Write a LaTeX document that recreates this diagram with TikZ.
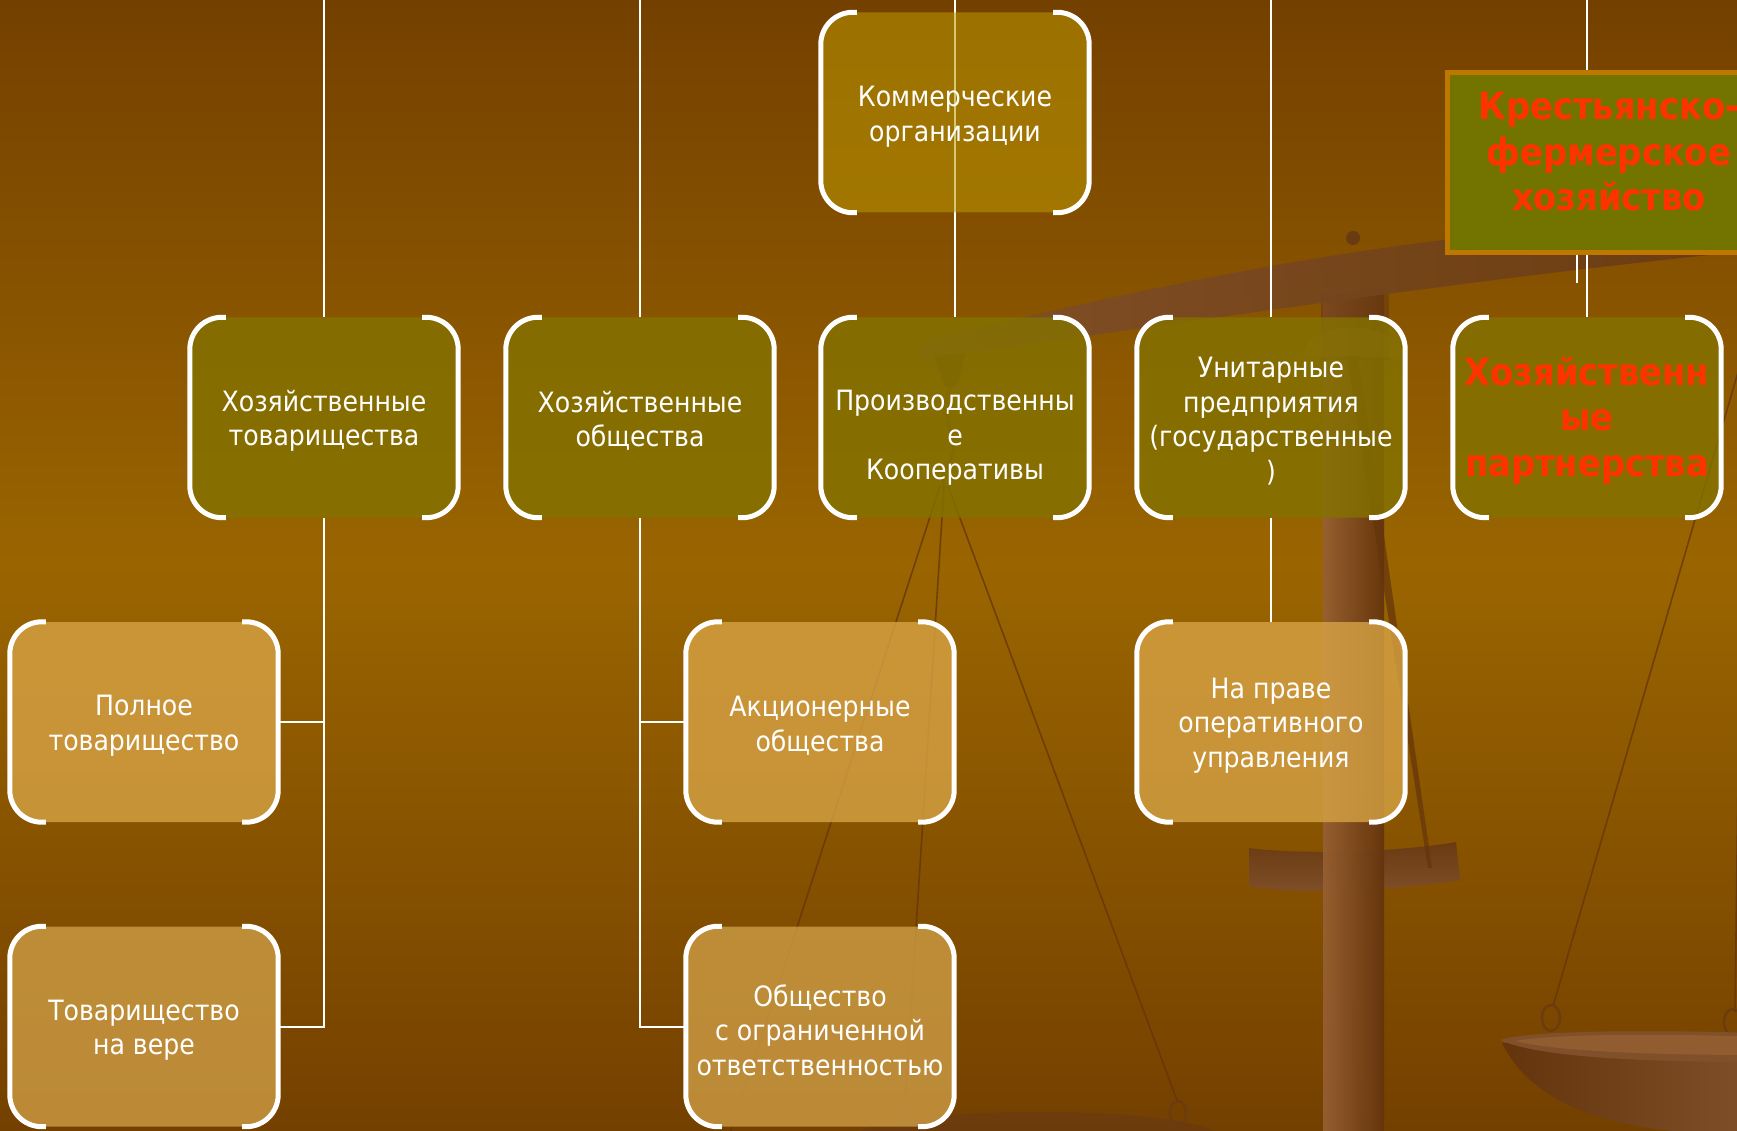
\documentclass[tikz,border=0pt]{standalone}
\usepackage{fontspec}
\newfontfamily\tah{DejaVu Sans Condensed}[BoldFont={DejaVu Sans Condensed Bold}]
\usetikzlibrary{calc}
\definecolor{bgTop}{RGB}{116,64,0}
\definecolor{bgMid}{RGB}{154,101,0}
\definecolor{bgBot}{RGB}{116,64,0}
\definecolor{topFill}{RGB}{189,153,0}
\definecolor{midFill}{RGB}{132,114,0}
\definecolor{lowFill}{RGB}{215,163,69}
\definecolor{botFill}{RGB}{206,157,69}
\definecolor{kfhFill}{RGB}{115,115,0}
\definecolor{kfhLine}{RGB}{190,120,0}
\definecolor{redText}{RGB}{255,51,0}
\definecolor{woodA}{RGB}{150,95,50}
\definecolor{woodB}{RGB}{100,52,12}
\definecolor{woodC}{RGB}{128,80,42}
\definecolor{woodD}{RGB}{106,58,18}
\newcommand\boxbrackets[1]{%
  \draw[bracket] ([xshift=36pt]#1.north west) -- (#1.north west) -- (#1.south west) -- ([xshift=36pt]#1.south west);
  \draw[bracket] ([xshift=-36pt]#1.north east) -- (#1.north east) -- (#1.south east) -- ([xshift=-36pt]#1.south east);}
\begin{document}
\begin{tikzpicture}[x=1pt,y=-1pt,
  box/.style={rectangle, rounded corners=32pt, minimum width=268pt, minimum height=200pt,
    inner sep=0pt, fill opacity=0.8},
  topbox/.style={box, fill=topFill, fill opacity=0.55},
  midbox/.style={box, fill=midFill},
  lowbox/.style={box, fill=lowFill},
  botbox/.style={box, fill=botFill},
  btext/.style={align=center, text=white, inner sep=0pt, font=\tah\fontsize{28}{34.5}\selectfont},
  redtxt/.style={align=center, inner sep=0pt, text=redText, font=\tah\bfseries\fontsize{37.5}{45.5}\selectfont},
  kfhbox/.style={rectangle, draw=kfhLine, line width=5pt, fill=kfhFill, minimum width=328pt, minimum height=180pt, inner sep=0pt},
  bracket/.style={draw=white, line width=5pt, rounded corners=32pt},
  conn/.style={draw=white, line width=2pt},
  string/.style={draw=woodB, line width=1.6pt, opacity=0.75},
  hook/.style={draw=woodD, line width=2.5pt, opacity=0.8}]
\useasboundingbox (0,0) rectangle (1737,1131);
\clip (0,0) rectangle (1737,1131);
% background
\fill[top color=bgTop, bottom color=bgBot, middle color=bgMid] (0,0) rectangle (1737,1131);
% ---- balance scale (background art)
\shade[top color=woodD, bottom color=woodC] (1249,848) .. controls (1300,855) and (1400,852) .. (1456,842)
   -- (1460,880) .. controls (1400,890) and (1300,896) .. (1249,886) -- cycle;
\shade[left color=woodA, right color=woodB, opacity=0.95] (1323,290) rectangle (1384,1131);
\fill[woodD, opacity=0.6] (1321,293) rectangle (1389,360);
\fill[woodA, opacity=0.45] (1303,357) .. controls (1303,318) and (1402,318) .. (1402,357) -- cycle;
\shade[left color=woodC, right color=woodD, opacity=0.92]
   (919,342) .. controls (1200,275) and (1400,232) .. (1760,212)
   -- (1760,250) .. controls (1500,275) and (1200,320) .. (919,360) -- cycle;
\fill[woodD] (1353,238) circle (7pt);
\fill[woodB, opacity=0.7] (1347,356) -- (1358,356) -- (1432,868) -- (1428,868) -- cycle;
% left hanger
\fill[woodD, opacity=0.6] (934,356) -- (966,353) -- (957,386) -- (945,387) -- cycle;
\draw[woodD, line width=3pt, opacity=0.5] (951,386) .. controls (935,420) and (965,440) .. (948,465)
   .. controls (938,478) and (946,485) .. (944,488);
\draw[string] (940,486) -- (731,1131);
\draw[string] (944,486) -- (905,1103);
\draw[string] (948,486) -- (1178,1103);
\draw[hook] (905,1115) ellipse (8pt and 12pt);
\draw[hook] (1178,1113) ellipse (8pt and 12pt);
\fill[woodD, opacity=0.7] (860,1131) .. controls (900,1108) and (1150,1103) .. (1215,1131) -- cycle;
% right pan
\draw[string] (1762,290) -- (1553,1006);
\draw[string] (1742,470) -- (1735,1012);
\draw[hook] (1551,1018) ellipse (9pt and 13pt);
\draw[hook] (1733,1022) ellipse (9pt and 13pt);
\shade[left color=woodB, right color=woodC]
   (1502,1043) .. controls (1530,1100) and (1600,1128) .. (1700,1133) -- (1760,1133) -- (1760,1045) -- cycle;
\fill[woodC] (1500,1040) .. controls (1530,1030) and (1650,1030) .. (1760,1033) -- (1760,1062)
   .. controls (1650,1062) and (1540,1058) .. (1500,1040) -- cycle;
\fill[woodA, opacity=0.8] (1515,1041) .. controls (1560,1033) and (1680,1034) .. (1760,1037) -- (1760,1055)
   .. controls (1660,1055) and (1560,1052) .. (1515,1041) -- cycle;
% ---- free ends of connectors
\coordinate (tA) at (324,0);
\coordinate (tB) at (640,0);
\coordinate (tC) at (955,0);
\coordinate (tD) at (1271,0);
\coordinate (tE) at (1587,0);
\coordinate (kx) at (1577,283);
% ---- node frames (placed first, so that connectors can be drawn beneath the filled boxes)
\path (955,112.5) node[box, fill opacity=0] (K) {}
      (324,417.5) node[box, fill opacity=0] (A) {}
      (640,417.5) node[box, fill opacity=0] (B) {}
      (955,417.5) node[box, fill opacity=0] (C) {}
      (1271,417.5) node[box, fill opacity=0] (D) {}
      (1587,417.5) node[box, fill opacity=0] (E) {}
      (144,722) node[box, fill opacity=0] (F) {}
      (820,722) node[box, fill opacity=0] (G) {}
      (1271,722) node[box, fill opacity=0] (H) {}
      (144,1026.5) node[box, fill opacity=0] (I) {}
      (820,1026.5) node[box, fill opacity=0] (J) {};
% ---- connectors
\draw[conn] (tA) -- (A.north);
\draw[conn] (tB) -- (B.north);
\draw[conn] (tC) -- (C.north);
\draw[conn] (tD) -- (D.north);
\draw[conn] (tE) -- (E.north);
\draw[conn] (A.south) |- (I.east);
\draw[conn] (F.east -| A.south) -- (F.east);
\draw[conn] (B.south) |- (J.west);
\draw[conn] (G.west -| B.south) -- (G.west);
\draw[conn] (D.south) -- (H.north);
% ---- filled boxes
\node[topbox] (Kf) at (K) {};
\node[midbox] (Af) at (A) {};
\node[midbox] (Bf) at (B) {};
\node[midbox] (Cf) at (C) {};
\node[midbox] (Df) at (D) {};
\node[midbox] (Ef) at (E) {};
\node[lowbox] (Ff) at (F) {};
\node[lowbox] (Gf) at (G) {};
\node[lowbox] (Hf) at (H) {};
\node[botbox] (If) at (I) {};
\node[botbox] (Jf) at (J) {};
\foreach \n in {K,A,B,C,D,E,F,G,H,I,J} {\boxbrackets{\n}}
% ---- texts
\node[btext] (Kt) at ([yshift=-4pt]K) {Коммерческие\\организации};
\node[btext] (At) at ([yshift=-3.5pt]A) {Хозяйственные\\ товарищества};
\node[btext] (Bt) at ([yshift=-3.5pt]B) {Хозяйственные\\ общества};
\node[btext] (Ct) at ([yshift=-20.5pt]C) {Производственны\\е\\Кооперативы};
\node[btext] (Dt) at ([yshift=-3.5pt]D) {Унитарные\\ предприятия\\(государственные\\)};
\node[redtxt] (Et) at ([yshift=-3pt]E) {Хозяйственн\\ые\\партнерства};
\node[btext] (Ft) at ([yshift=-3.5pt]F) {Полное\\товарищество};
\node[btext] (Gt) at ([yshift=-3.5pt]G) {Акционерные\\общества};
\node[btext] (Ht) at ([yshift=-3.5pt]H) {На праве\\оперативного\\ управления};
\node[btext] (It) at ([yshift=-3.5pt]I) {Товарищество\\на вере};
\node[btext] (Jt) at ([yshift=-3.5pt]J) {Общество\\с ограниченной\\ответственностью};
% ---- peasant farm box
\node[kfhbox] (kfh) at (1611,163) {};
\node[redtxt] (kfhT) at (1609,152) {Крестьянско-\\фермерское\\хозяйство};
\draw[conn] (kfh.south -| kx) -- (kx);
\end{tikzpicture}
\end{document}
